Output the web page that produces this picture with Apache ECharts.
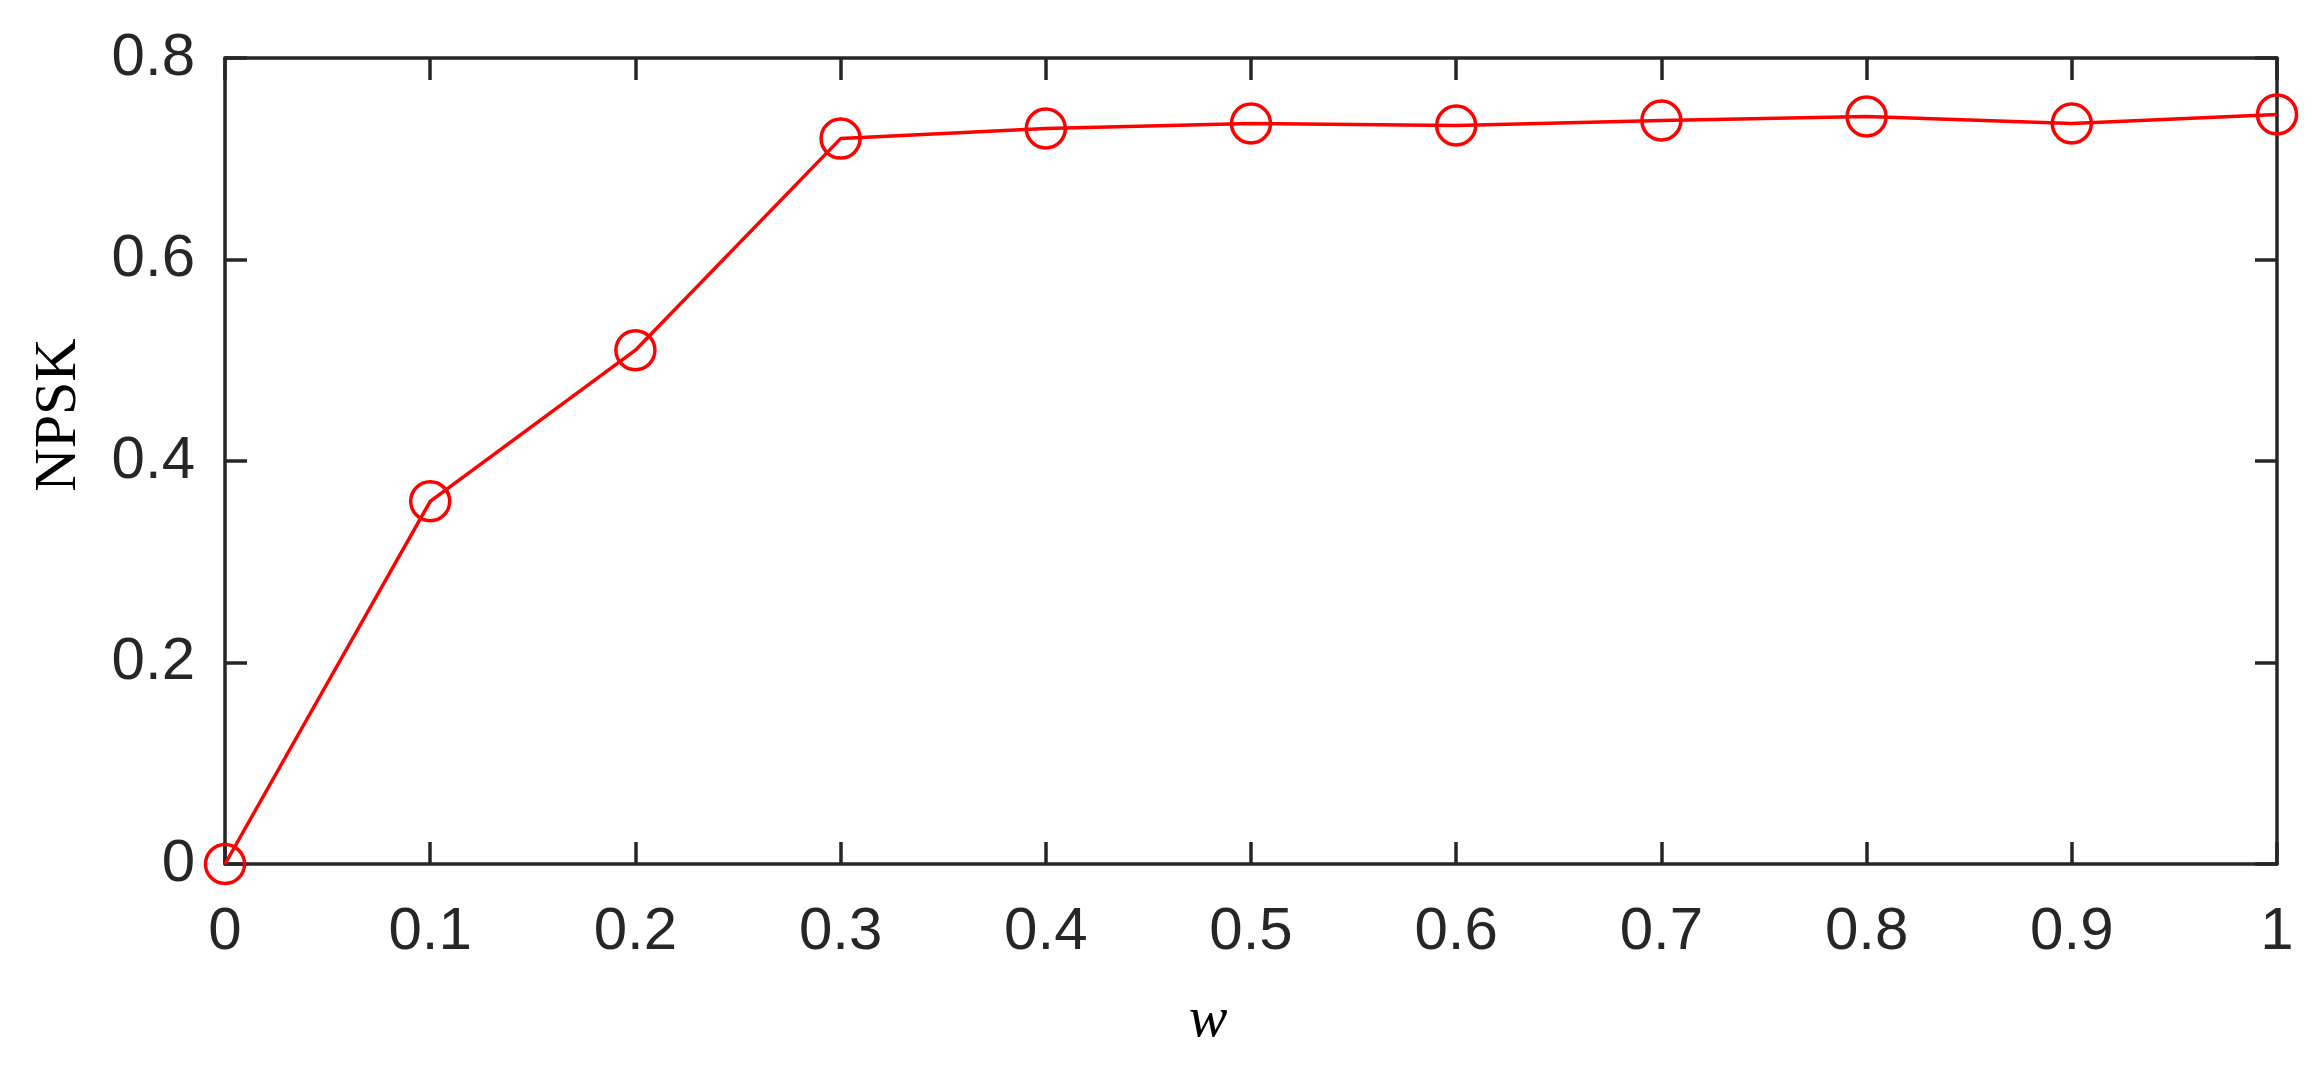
<!DOCTYPE html>
<html>
<head>
<meta charset="utf-8">
<script src="https://cdn.jsdelivr.net/npm/echarts@6/dist/echarts.min.js"></script>
<style>
  html, body { margin: 0; padding: 0; background: #fff; }
  #main { width: 2324px; height: 1066px; }
</style>
</head>
<body>
<div id="main"></div>
<script>
  // w values on the x axis
  const wValues = [0, 0.1, 0.2, 0.3, 0.4, 0.5, 0.6, 0.7, 0.8, 0.9, 1];
  // NPSK
  const npskValues = [0, 0.360, 0.510, 0.720, 0.730, 0.735, 0.733, 0.738, 0.742, 0.735, 0.744];

  const axisColor = '#262626';
  const tickFont = { fontFamily: 'Liberation Sans, Arial, sans-serif', fontSize: 60, color: axisColor };

  const lineStyle = { color: axisColor, width: 3.5 };
  const axisLine = { show: true, onZero: false, lineStyle: lineStyle };
  const tick = { show: true, inside: true, length: 22, lineStyle: lineStyle };

  let option = {
    backgroundColor: '#fff',
    animation: false,
    grid: {
      left: 225,
      right: 47,
      top: 58,
      bottom: 202,
      containLabel: false
    },
    xAxis: [
      {
        type: 'value',
        min: 0,
        max: 1,
        interval: 0.1,
        position: 'bottom',
        name: 'w',
        nameLocation: 'middle',
        nameGap: 128,
        nameTextStyle: {
          fontFamily: 'Liberation Serif, Times New Roman, serif',
          fontStyle: 'italic',
          fontSize: 58,
          color: '#000',
          padding: [0, 86, 0, 0]
        },
        axisLine: axisLine,
        axisTick: tick,
        axisLabel: Object.assign({ margin: 38 }, tickFont),
        splitLine: { show: false }
      },
      {
        type: 'value',
        min: 0,
        max: 1,
        interval: 0.1,
        position: 'top',
        axisLine: axisLine,
        axisTick: tick,
        axisLabel: { show: false },
        splitLine: { show: false }
      }
    ],
    yAxis: [
      {
        type: 'value',
        min: 0,
        max: 0.8,
        interval: 0.2,
        position: 'left',
        name: 'NPSK',
        nameLocation: 'middle',
        nameGap: 136,
        nameRotate: 90,
        nameTextStyle: {
          fontFamily: 'Liberation Serif, Times New Roman, serif',
          fontSize: 60,
          color: '#000',
          padding: [0, 0, 0, 92]
        },
        axisLine: axisLine,
        axisTick: tick,
        axisLabel: Object.assign({ margin: 30 }, tickFont),
        splitLine: { show: false }
      },
      {
        type: 'value',
        min: 0,
        max: 0.8,
        interval: 0.2,
        position: 'right',
        axisLine: axisLine,
        axisTick: tick,
        axisLabel: { show: false },
        splitLine: { show: false }
      }
    ],
    series: [
      {
        name: 'NPSK',
        type: 'line',
        xAxisIndex: 0,
        yAxisIndex: 0,
        data: wValues.map((w, i) => [w, npskValues[i]]),
        symbol: 'circle',
        symbolSize: 39,
        showSymbol: true,
        clip: false,
        lineStyle: { color: '#ff0000', width: 3.5 },
        itemStyle: { color: 'transparent', borderColor: '#ff0000', borderWidth: 3.5 }
      }
    ]
  };

  let myChart = echarts.init(document.getElementById('main'));
  myChart.setOption(option);
</script>
</body>
</html>
